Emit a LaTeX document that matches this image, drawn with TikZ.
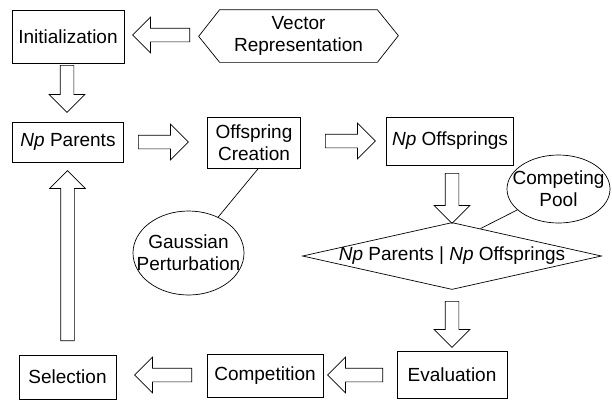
\documentclass[tikz,border=0pt]{standalone}
\usepackage{fontspec}
\setmainfont{Liberation Sans}
\usetikzlibrary{shapes.geometric,shapes.arrows,calc}
\begin{document}
\begin{tikzpicture}[x=1pt,y=1pt,
  font=\fontsize{19}{22}\selectfont,
  line width=0.7pt,
  stepbox/.style={draw, rectangle, inner sep=0pt, align=center},
  bubble/.style={draw, ellipse, inner sep=0pt},
  blockarrow/.style={draw, single arrow, single arrow head extend=11pt,
    inner xsep=0pt, inner ysep=6.5pt, anchor=tail}]
\useasboundingbox (0,0) rectangle (612,-400);
% boxes
\node[stepbox, minimum width=112, minimum height=53] (init) at (68,-37) {Initialization};
\node[inner sep=0pt, align=center, minimum width=157, minimum height=52] (vec) at (298.5,-36) {Vector\\Representation};
\draw (vec.north west) -- (vec.north east) -- ++(21,-26) -- (vec.south east) -- (vec.south west) -- ++(-21,26) -- cycle;
\node[stepbox, minimum width=111, minimum height=40] (parents) at (68,-142) {\textit{Np} Parents};
\node[stepbox, minimum width=93, minimum height=51] (create) at (254,-143) {Offspring\\Creation};
\node[stepbox, minimum width=127, minimum height=48] (offs) at (450,-141) {\textit{Np} Offsprings};
\node[bubble, minimum width=111, minimum height=84, label={[align=center]center:Gaussian\\Perturbation}] (gauss) at (188.5,-253) {};
\node[bubble, minimum width=103, minimum height=68, label={[align=center]center:Competing\\Pool}] (pool) at (558.5,-189) {};
\node[draw, diamond, inner sep=0pt, minimum width=299, minimum height=67, label={center:\textit{Np} Parents | \textit{Np} Offsprings}] (dia) at (452,-256) {};
\node[stepbox, minimum width=110, minimum height=47] (eval) at (452,-374.5) {Evaluation};
\node[stepbox, minimum width=116, minimum height=43] (comp) at (265,-375.5) {Competition};
\node[stepbox, minimum width=97, minimum height=44] (sel) at (67.5,-377) {Selection};
% links
\draw ([xshift=4pt]create.south) -- (gauss);
\draw (pool) -- ($(dia.north)!0.19!(dia.east)$);
% block arrows
\node[blockarrow, rotate=180, minimum height=57] (a1) at (190,-35) {};
\node[blockarrow, rotate=-90, minimum height=47] (a2) at (67,-65) {};
\node[blockarrow, minimum height=50] (a3) at (138,-142) {};
\node[blockarrow, minimum height=50] (a4) at (325,-141) {};
\node[blockarrow, rotate=-90, minimum height=50] (a5) at (452,-173) {};
\node[blockarrow, rotate=-90, minimum height=46] (a6) at (452,-301) {};
\node[blockarrow, rotate=180, minimum height=55] (a7) at (383,-375) {};
\node[blockarrow, rotate=180, minimum height=57] (a8) at (192,-375) {};
\node[blockarrow, rotate=90, minimum height=170] (a9) at (67.5,-341) {};
\end{tikzpicture}
\end{document}
